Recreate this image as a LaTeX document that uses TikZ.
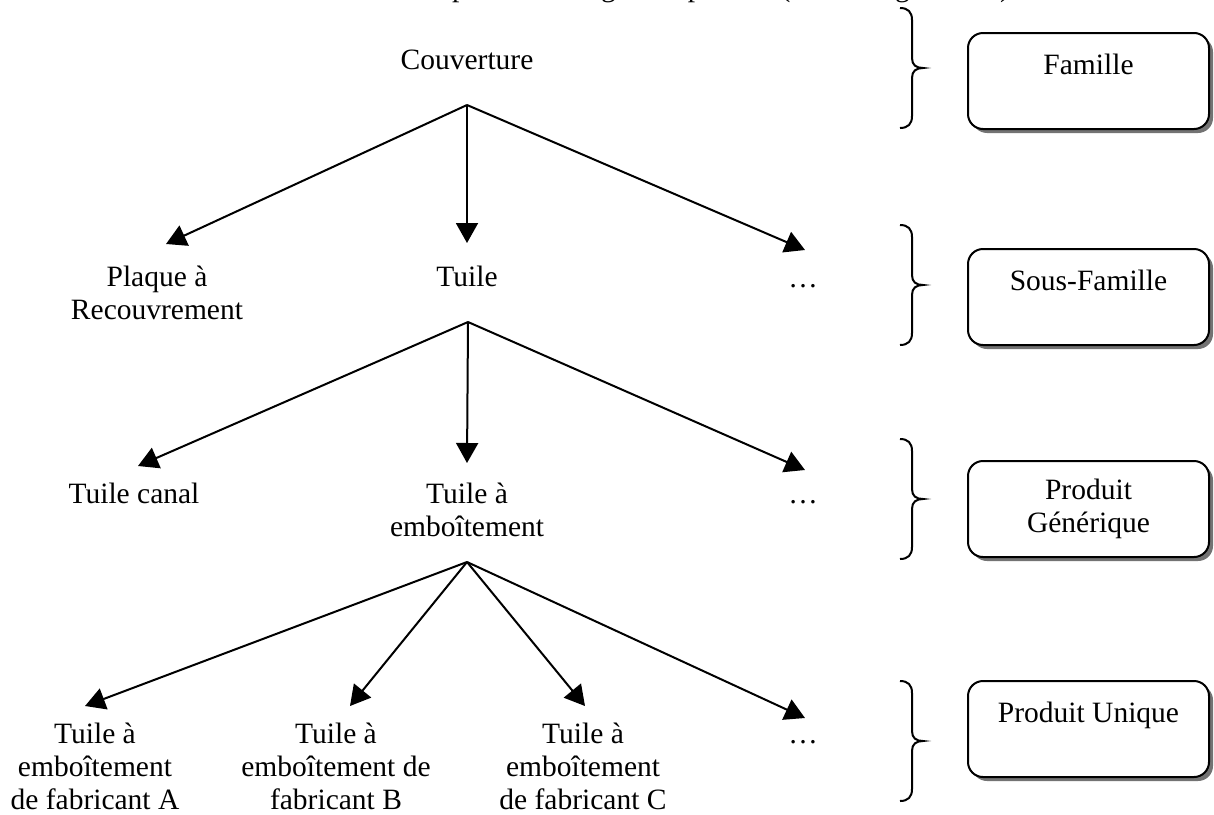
\documentclass[tikz,border=0pt]{standalone}
\usepackage{fontspec}
\setmainfont{Liberation Serif}
\usetikzlibrary{arrows.meta,shadows}
\begin{document}
\begin{tikzpicture}[x=1pt,y=-1pt,
  every node/.style={font=\fontsize{29.5}{33}\selectfont, inner sep=0pt, align=center},
  lbl/.style={anchor=base},
  arr/.style={line width=2pt, -{Triangle[length=20pt,width=22pt]}},
  levelbox/.style={draw, line width=2pt, rounded corners=15pt, fill=white,
    minimum width=241pt, minimum height=96pt,
    drop shadow={shadow xshift=4pt, shadow yshift=-4pt, fill=black!55, opacity=1}},
  rbrace/.pic={\draw[line width=2pt]
    (0,0) .. controls (8,0) and (12,4) .. (12,12) -- (12,50)
    .. controls (12,57) and (16,60) .. (23,60)
    .. controls (16,60) and (12,63) .. (12,70) -- (12,108)
    .. controls (12,116) and (8,120) .. (0,120);}
]
\useasboundingbox (0,0) rectangle (1214,814);

% partially visible heading (cut by the top edge, as in the reference)
\node[anchor=base west] (head) at (383,-3.5) {Exemple de catalogue du produit (ordre de grandeur)};

% tree labels (anchor = baseline of the last line)
\node[lbl] (cov) at (467,69) {Couverture};
\node[lbl] (plaque) at (157,319) {Plaque à\\Recouvrement};
\node[lbl] (tuile) at (467,286) {Tuile};
\node[lbl] (dotsa) at (803,287) {…};
\node[lbl] (canal) at (134,503) {Tuile canal};
\node[lbl] (emb) at (467,536) {Tuile à\\emboîtement};
\node[lbl] (dotsb) at (803,503) {…};
\node[lbl] (fa) at (95,809) {Tuile à\\emboîtement\\de fabricant A};
\node[lbl] (fb) at (336,809) {Tuile à\\emboîtement de\\fabricant B};
\node[lbl] (fc) at (583,809) {Tuile à\\emboîtement\\de fabricant C};
\node[lbl] (dotsc) at (803,743) {…};

% fork points and arrow ends
\coordinate (f1) at (467,105);
\coordinate (f2) at (468,322);
\coordinate (f3) at (467,562);
\coordinate (t-plaque) at (166,244);
\coordinate (t-tuile) at (467,243);
\coordinate (t-dotsa) at (805,250);
\coordinate (t-canal) at (138,466);
\coordinate (t-emb) at (467,463);
\coordinate (t-dotsb) at (805,470);
\coordinate (t-fa) at (85,706);
\coordinate (t-fb) at (350,706);
\coordinate (t-fc) at (585,706);
\coordinate (t-dotsc) at (805,718);

\draw[arr] (f1) -- (t-plaque);
\draw[arr] (f1) -- (t-tuile);
\draw[arr] (f1) -- (t-dotsa);
\draw[arr] (f2) -- (t-canal);
\draw[arr] (f2) -- (t-emb);
\draw[arr] (f2) -- (t-dotsb);
\draw[arr] (f3) -- (t-fa);
\draw[arr] (f3) -- (t-fb);
\draw[arr] (f3) -- (t-fc);
\draw[arr] (f3) -- (t-dotsc);

% braces
\pic at (900,8) {rbrace};
\pic at (900,225) {rbrace};
\pic at (900,439) {rbrace};
\pic at (900,681) {rbrace};

% level boxes
\node[levelbox] (famille) at (1088.5,81) {Famille\\\mbox{}};
\node[levelbox] (sousfam) at (1088.5,297) {Sous-Famille\\\mbox{}};
\node[levelbox] (generique) at (1088.5,509) {Produit\\Générique};
\node[levelbox] (unique) at (1088.5,729) {Produit Unique\\\mbox{}};
\end{tikzpicture}
\end{document}
